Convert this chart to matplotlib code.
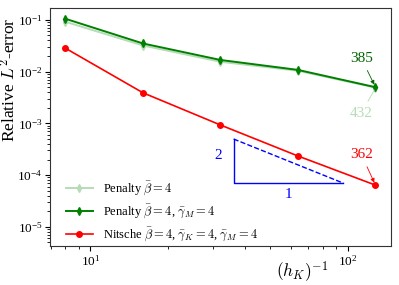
import matplotlib
matplotlib.use("Agg")
import matplotlib.pyplot as plt

plt.rcParams.update({
    "font.family": "serif",
    "font.serif": ["Liberation Serif", "DejaVu Serif"],
    "mathtext.fontset": "cm",
    "font.size": 9,
})

# mesh refinement (h_K)^-1
h_inv = [8, 16, 32, 64, 128]
# relative L2 errors
err_penalty = [0.092, 0.032, 0.0155, 0.0104, 0.0049]
err_penalty_gm = [0.105, 0.035, 0.0168, 0.0108, 0.0050]
err_nitsche = [0.0283, 0.0039, 0.00093, 0.000234, 0.000064]
# iteration counts shown at finest mesh
iters_penalty = "432"
iters_penalty_gm = "385"
iters_nitsche = "362"
# slope triangle (x range, y base)
tri_x = [36, 96]
tri_y0 = 7.0e-5

fig = plt.figure(figsize=(3.99, 2.85), dpi=100)
ax = fig.add_axes([50 / 399, 1 - 246 / 285, 341 / 399, 238 / 285])

light = "#b5dcb5"
ax.plot(h_inv, err_penalty, "-d", color=light, ms=4, lw=1.4,
        label=r"Penalty $\bar{\beta}=4$")
ax.plot(h_inv, err_penalty_gm, "-d", color="green", ms=4, lw=1.4,
        label=r"Penalty $\bar{\beta}=4$, $\bar{\gamma}_M=4$")
ax.plot(h_inv, err_nitsche, "-o", color="red", ms=4, lw=1.2,
        label=r"Nitsche $\bar{\beta}=4$, $\bar{\gamma}_K=4$, $\bar{\gamma}_M=4$")

ax.set_xscale("log")
ax.set_yscale("log")
ax.set_ylim(10 ** -5.37, 10 ** -0.77)

# slope 2 triangle
y_top = tri_y0 * (tri_x[1] / tri_x[0]) ** 2
ax.plot([tri_x[0], tri_x[0], tri_x[1]], [y_top, tri_y0, tri_y0], color="blue", lw=1)
ax.plot([tri_x[0], tri_x[1]], [y_top, tri_y0], "--", color="blue", lw=1)
ax.text(tri_x[0] * 0.9, (y_top * tri_y0) ** 0.5 * 1.3, "2", color="blue",
        fontsize=11, ha="right", va="center")
ax.text((tri_x[0] * tri_x[1]) ** 0.5, tri_y0 * 0.8, "1", color="blue",
        fontsize=11, ha="center", va="top")

arrow = dict(arrowstyle="-|>", lw=0.6, mutation_scale=6)
ax.annotate(iters_penalty_gm, xy=(h_inv[-1], err_penalty_gm[-1]), xytext=(113, 0.0152),
            color="darkgreen", fontsize=11, ha="center",
            arrowprops=dict(arrow, color="darkgreen"))
ax.annotate(iters_penalty, xy=(h_inv[-1], err_penalty[-1]), xytext=(113, 0.00135),
            color=light, fontsize=11, ha="center",
            arrowprops=dict(arrowstyle="-", lw=0.6, color=light))
ax.annotate(iters_nitsche, xy=(h_inv[-1], err_nitsche[-1]), xytext=(113, 0.00021),
            color="red", fontsize=11, ha="center",
            arrowprops=dict(arrow, color="red"))

ax.set_ylabel(r"Relative $L^2$-error", fontsize=12.5)
ax.yaxis.set_label_coords(-0.09, 0.7)
ax.set_xlabel(r"$(h_K)^{-1}$", fontsize=12.5)
ax.xaxis.set_label_coords(0.74, -0.055)
ax.tick_params(labelsize=9.5, pad=2)
for s in ax.spines.values():
    s.set_color("#333333")

ax.legend(loc="lower left", frameon=False, fontsize=9, handlelength=2.1,
          labelspacing=0.45, bbox_to_anchor=(0.015, -0.035))

fig.savefig("out.png", dpi=100)
